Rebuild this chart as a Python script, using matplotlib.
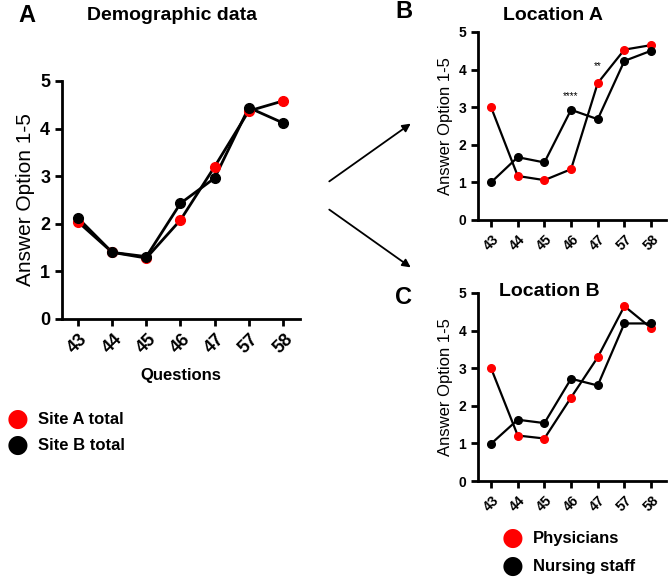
import matplotlib.pyplot as plt

plt.rcParams["font.family"] = "Liberation Sans"
plt.rcParams["font.weight"] = "bold"

questions = ["43", "44", "45", "46", "47", "57", "58"]

# Panel A - demographic data
site_a_total = [2.04, 1.40, 1.28, 2.08, 3.20, 4.37, 4.58]
site_b_total = [2.12, 1.40, 1.31, 2.43, 2.96, 4.44, 4.12]

# Panel B - location A
loc_a_physicians = [3.00, 1.17, 1.06, 1.35, 3.64, 4.53, 4.65]
loc_a_nursing = [1.00, 1.67, 1.53, 2.93, 2.68, 4.23, 4.50]
loc_a_signif = {3: ("****", 3.29), 4: ("**", 4.10)}

# Panel C - location B
loc_b_physicians = [3.00, 1.21, 1.13, 2.22, 3.29, 4.65, 4.07]
loc_b_nursing = [0.99, 1.63, 1.54, 2.72, 2.54, 4.19, 4.19]


def style_axes(ax, xlim, tick_size, label_size):
    ax.set_ylim(0, 5)
    ax.set_xlim(*xlim)
    ax.set_yticks(range(6))
    ax.set_xticks(range(len(questions)))
    ax.set_xticklabels(questions, rotation=45, ha="center", fontsize=tick_size - 1)
    for s in ["top", "right"]:
        ax.spines[s].set_visible(False)
    for s in ["left", "bottom"]:
        ax.spines[s].set_linewidth(2)
    ax.tick_params(width=2, length=5, labelsize=tick_size)
    ax.set_ylabel("Answer Option 1-5", fontsize=label_size, fontweight="normal")


def draw_pair(ax, red_vals, black_vals, ms, lw):
    x = range(len(questions))
    ax.plot(x, red_vals, color="black", lw=lw, zorder=2)
    ax.plot(x, black_vals, color="black", lw=lw, zorder=2)
    ax.plot(x, red_vals, "o", color="red", ms=ms, zorder=3)
    ax.plot(x, black_vals, "o", color="black", ms=ms, zorder=4)


fig = plt.figure(figsize=(6.69, 5.78), dpi=100)

# Panel A
axA = fig.add_axes([0.0927, 0.4481, 0.3557, 0.4118])
draw_pair(axA, site_a_total, site_b_total, ms=7, lw=2)
style_axes(axA, (-0.47, 6.5), 13, 15)
axA.set_xlabel("Questions", fontsize=12, fontweight="bold", labelpad=8)

fig.text(18 / 669, 1 - 15 / 578, "A", fontsize=17, fontweight="bold", va="center")
fig.text(172 / 669, 1 - 16 / 578, "Demographic data", fontsize=14, fontweight="bold",
         ha="center", va="center")

# Panel B
axB = fig.add_axes([0.7145, 0.6194, 0.2810, 0.3253])
draw_pair(axB, loc_a_physicians, loc_a_nursing, ms=5.5, lw=1.6)
style_axes(axB, (-0.49, 6.56), 10, 12)
for i, (txt, yv) in loc_a_signif.items():
    axB.text(i, yv, txt, ha="center", va="center", fontsize=7, fontweight="normal")

fig.text(395 / 669, 1 - 12 / 578, "B", fontsize=17, fontweight="bold", va="center")
fig.text(553 / 669, 1 - 15 / 578, "Location A", fontsize=14, fontweight="bold",
         ha="center", va="center")

# Panel C
axC = fig.add_axes([0.7145, 0.1678, 0.2810, 0.3253])
draw_pair(axC, loc_b_physicians, loc_b_nursing, ms=5.5, lw=1.6)
style_axes(axC, (-0.49, 6.56), 10, 12)

fig.text(395 / 669, 1 - 297 / 578, "C", fontsize=17, fontweight="bold", va="center")
fig.text(549 / 669, 1 - 291 / 578, "Location B", fontsize=14, fontweight="bold",
         ha="center", va="center")

# Legends
def legend_item(px, py, color, label, size):
    fig.text(px / 669, 1 - py / 578, "\u25CF", color=color, fontsize=size + 6,
             ha="center", va="center", family="DejaVu Sans")
    fig.text((px + 20) / 669, 1 - py / 578, label, fontsize=size, fontweight="bold",
             va="center")

legend_item(18, 419, "red", "Site A total", 12)
legend_item(18, 445, "black", "Site B total", 12)
legend_item(513, 538, "red", "Physicians", 12)
legend_item(513, 566, "black", "Nursing staff", 12)

# Arrows
for start, end in [((327, 183), (413, 122)), ((327, 208), (413, 269))]:
    fig.add_artist(plt.matplotlib.patches.FancyArrowPatch(
        (start[0] / 669, 1 - start[1] / 578), (end[0] / 669, 1 - end[1] / 578),
        transform=fig.transFigure, arrowstyle="-|>", mutation_scale=12,
        color="black", lw=1.3))

fig.savefig("out.png", dpi=100)
